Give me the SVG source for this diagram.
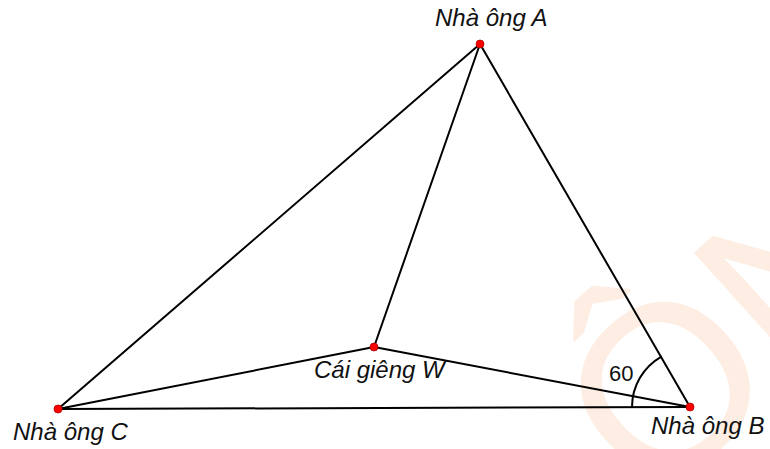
<svg xmlns="http://www.w3.org/2000/svg" width="770" height="449" viewBox="0 0 770 449">
<style>
.edge{stroke:#000;stroke-width:2;fill:none;stroke-linecap:round}
.pt{fill:#ff0000;stroke:#b00000;stroke-width:0.8}
.lbl{font-family:"Liberation Sans",Arial,sans-serif;font-size:24px;font-style:italic;fill:#111}
.num{font-family:"Liberation Sans",Arial,sans-serif;font-size:22px;fill:#111}
.wm{font-family:"Liberation Sans",Arial,sans-serif;font-size:235px;fill:#fdede2}
</style>
<rect width="770" height="449" fill="#fff"/>
<g id="watermark">
<text class="wm" transform="translate(652,508) rotate(-42)">ÔN</text>
</g>
<g id="connectors">
<line class="edge" x1="480" y1="44" x2="690" y2="407"/>
<line class="edge" x1="480" y1="44" x2="58" y2="409"/>
<line class="edge" x1="58" y1="409" x2="690" y2="407"/>
<line class="edge" x1="480" y1="44" x2="374" y2="347"/>
<line class="edge" x1="374" y1="347" x2="58" y2="409"/>
<line class="edge" x1="374" y1="347" x2="690" y2="407"/>
<path class="edge" d="M632 407 A58 58 0 0 1 661 356.8"/>
<text class="num" x="609" y="381">60</text>
</g>
<g id="nodeA">
<circle class="pt" cx="480" cy="44" r="4"/>
<text class="lbl" x="435" y="26">Nhà ông A</text>
</g>
<g id="nodeB">
<circle class="pt" cx="690" cy="407" r="4"/>
<text class="lbl" x="651" y="434">Nhà ông B</text>
</g>
<g id="nodeC">
<circle class="pt" cx="58" cy="409" r="4"/>
<text class="lbl" x="13" y="440">Nhà ông C</text>
</g>
<g id="nodeW">
<circle class="pt" cx="374" cy="347" r="4"/>
<text class="lbl" x="314" y="378">Cái giêng W</text>
</g>
</svg>
